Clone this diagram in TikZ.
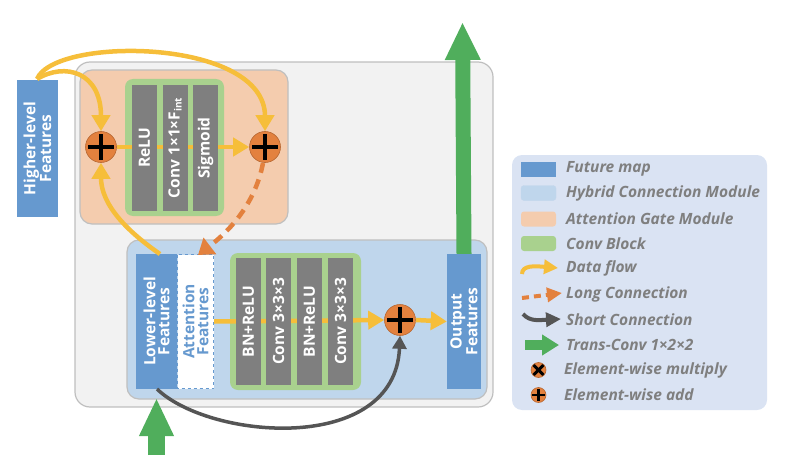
\documentclass[tikz,border=0pt]{standalone}
\usepackage{fontspec}
\setmainfont{Open Sans}
\usetikzlibrary{arrows.meta,calc}
\definecolor{bgc}{HTML}{F2F2F2}
\definecolor{bgb}{HTML}{BFBFBF}
\definecolor{agc}{HTML}{F4CCAE}
\definecolor{hyc}{HTML}{BFD6EC}
\definecolor{cbc}{HTML}{A9D18E}
\definecolor{barc}{HTML}{7F7F7F}
\definecolor{fmc}{HTML}{6699CF}
\definecolor{lgc}{HTML}{DAE3F3}
\definecolor{yelc}{HTML}{F6BE3A}
\definecolor{orc}{HTML}{E3813E}
\definecolor{dkc}{HTML}{555555}
\definecolor{grc}{HTML}{50AE5C}
\definecolor{txc}{HTML}{7F7F7F}
\begin{document}
\begin{tikzpicture}[x=1pt,y=-1pt,
  panel/.style={rounded corners=#1, draw=bgb, line width=1.2pt},
  bar/.style={fill=barc, draw=none, inner sep=0pt, rotate=90, text=white,
    font=\fontsize{15.5}{15}\selectfont\bfseries, minimum height=25pt},
  feat/.style={fill=fmc, draw=none, inner sep=0pt, rotate=90, text=white, align=center,
    font=\fontsize{15.5}{14}\selectfont\bfseries},
  plusnode/.style={circle, fill=orc, draw=orc!80!black, line width=0.6pt, inner sep=0pt, minimum size=#1,
    path picture={
      \coordinate (ppc) at (path picture bounding box.center);
      \draw[black, line width=0.15*#1] ($(ppc)!0.82!(path picture bounding box.west)$) -- ($(ppc)!0.82!(path picture bounding box.east)$);
      \draw[black, line width=0.15*#1] ($(ppc)!0.82!(path picture bounding box.north)$) -- ($(ppc)!0.82!(path picture bounding box.south)$);}},
  multnode/.style={circle, fill=orc, draw=orc!80!black, line width=0.6pt, inner sep=0pt, minimum size=#1,
    path picture={
      \coordinate (ppc) at (path picture bounding box.center);
      \draw[black, line width=0.2*#1] ($(ppc)!0.9!(path picture bounding box.north west)$) -- ($(ppc)!0.9!(path picture bounding box.south east)$);
      \draw[black, line width=0.2*#1] ($(ppc)!0.9!(path picture bounding box.north east)$) -- ($(ppc)!0.9!(path picture bounding box.south west)$);}},
  yflow/.style={draw=yelc, line width=4.5pt, -{Triangle[width=18pt,length=16pt]}},
  longc/.style={draw=orc, line width=4.5pt, dash pattern=on 10pt off 7pt, -{Triangle[width=20pt,length=15pt]}},
  shortc/.style={draw=dkc, line width=3.5pt, -{Triangle[width=14pt,length=13pt]}},
  trans/.style={draw=grc, line width=#1},
  swatch/.style={minimum width=35pt, minimum height=15pt, inner sep=0pt, rounded corners=3pt},
  lgtext/.style={anchor=west, text=txc, font=\fontsize{15.5}{15}\selectfont\bfseries\itshape, inner sep=0pt}
]
\useasboundingbox (0,0) rectangle (792,476);
% panels
\node[panel=15pt, fill=bgc, minimum width=418pt, minimum height=345pt] (outer) at (284,234.5) {};
\node[panel=12pt, fill=agc, draw=black!25, minimum width=208pt, minimum height=154pt] (ag) at (184,147) {};
\node[panel=12pt, fill=hyc, draw=black!25, minimum width=360pt, minimum height=159pt] (hyb) at (307,319.5) {};
\node[fill=cbc, rounded corners=8pt, minimum width=99pt, minimum height=137pt, inner sep=0pt] (cb1) at (174.5,147.5) {};
\node[fill=cbc, rounded corners=8pt, minimum width=131pt, minimum height=137pt, inner sep=0pt] (cb2) at (295.5,321.5) {};
% plus nodes
\node[plusnode=31pt] (pl) at (101,147) {};
\node[plusnode=31pt] (pr) at (265,147) {};
\node[plusnode=31pt] (pb) at (400,320) {};
% features
\node[feat, minimum width=137pt, minimum height=41pt] (hi) at (37.5,148.5) {Higher-level\\Features};
\node[feat, minimum width=135pt, minimum height=41pt] (lo) at (156.5,321.5) {Lower-level\\Features};
\node[feat, fill=white, draw=fmc, dashed, line width=1.2pt, text=fmc, minimum width=134pt, minimum height=36pt] (att) at (195.5,321.5) {Attention\\Features};
\node[feat, minimum width=135pt, minimum height=34pt] (out) at (464,321.5) {Output\\Features};
% straight flows (behind bars)
\draw[yflow] (pl.east) -- (pr.west);
\draw[yflow] (att.south) -- (pb.west);
\draw[yflow] (pb.east) -- (out.north);
% bars
\node[bar, minimum width=126pt] (b1) at (144.5,148) {ReLU};
\node[bar, minimum width=126pt] (b2) at (175,148) {Conv 1×1×F\raisebox{-0.25ex}{\fontsize{10}{10}\selectfont int}};
\node[bar, minimum width=126pt] (b3) at (205.5,148) {Sigmoid};
\node[bar, minimum width=127pt] (b4) at (248.5,321.5) {BN+ReLU};
\node[bar, minimum width=127pt] (b5) at (278.5,321.5) {Conv 3×3×3};
\node[bar, minimum width=127pt] (b6) at (309.5,321.5) {BN+ReLU};
\node[bar, minimum width=127pt] (b7) at (340.5,321.5) {Conv 3×3×3};
% curved flows
\coordinate (hitop) at (37,79);
\draw[yflow] (hitop) .. controls (55,36) and (265,38) .. (pr.north);
\draw[yflow] (hitop) .. controls (65,62) and (101,72) .. (pl.north);
\coordinate (lotop) at (160,254);
\draw[yflow] (lotop) .. controls (128,232) and (101,205) .. (pl.south);
\coordinate (atttop) at (198,255);
\draw[longc] (263,163) .. controls (255,205) and (228,232) .. (atttop);
\coordinate (lobot) at (157,389);
\draw[shortc] (lobot) .. controls (210,440) and (395,455) .. (pb.south);
% green arrows
\coordinate (uptip) at (462.5,22);
\draw[trans=15pt, -{Triangle[width=33pt,length=38pt]}] (out.east) -- (uptip);
\coordinate (lowstart) at (156.5,455);
\coordinate (lowtip) at (156.5,398);
\draw[trans=17pt, -{Triangle[width=32pt,length=38pt]}] (lowstart) -- (lowtip);
% legend
\node[rounded corners=10pt, fill=lgc, minimum width=255pt, minimum height=255pt, inner sep=0pt] (legend) at (639.5,282.5) {};
\node[swatch, fill=fmc, rounded corners=0pt] (s1) at (538.5,169.5) {};
\node[swatch, fill=hyc, draw=fmc!40] (s2) at (538.5,193) {};
\node[swatch, fill=agc] (s3) at (538.5,219) {};
\node[swatch, fill=cbc] (s4) at (538.5,243.5) {};
\coordinate (d1) at (522,274); \coordinate (d2) at (558,268);
\draw[draw=yelc, line width=4pt, -{Triangle[width=14pt,length=14pt]}] (d1) .. controls (522,265) and (535,266) .. (d2);
\coordinate (l1) at (522,298); \coordinate (l2) at (562,293);
\draw[draw=orc, line width=4pt, dash pattern=on 7pt off 5pt, -{Triangle[width=14pt,length=15pt]}] (l1) -- (l2);
\coordinate (sh1) at (523,314); \coordinate (sh2) at (561,319);
\draw[draw=dkc, line width=4pt, -{Triangle[width=14pt,length=15pt]}] (sh1) .. controls (530,322) and (540,320) .. (sh2);
\coordinate (t1) at (525,345); \coordinate (t2) at (559,345);
\draw[trans=10pt, -{Triangle[width=20pt,length=17pt]}] (t1) -- (t2);
\node[multnode=15pt] (m1) at (538.5,370) {};
\node[plusnode=15pt] (m2) at (538.5,395) {};
\node[lgtext] (tx1) at (566,169) {Future map};
\node[lgtext] (tx2) at (566,193.5) {Hybrid Connection Module};
\node[lgtext] (tx3) at (566,219) {Attention Gate Module};
\node[lgtext] (tx4) at (566,243.5) {Conv Block};
\node[lgtext] (tx5) at (566,268.5) {Data flow};
\node[lgtext] (tx6) at (566,294) {Long Connection};
\node[lgtext] (tx7) at (566,319.5) {Short Connection};
\node[lgtext] (tx8) at (566,345) {Trans-Conv 1×2×2};
\node[lgtext] (tx9) at (564,370) {Element-wise multiply};
\node[lgtext] (tx10) at (564,395) {Element-wise add};
\end{tikzpicture}
\end{document}
